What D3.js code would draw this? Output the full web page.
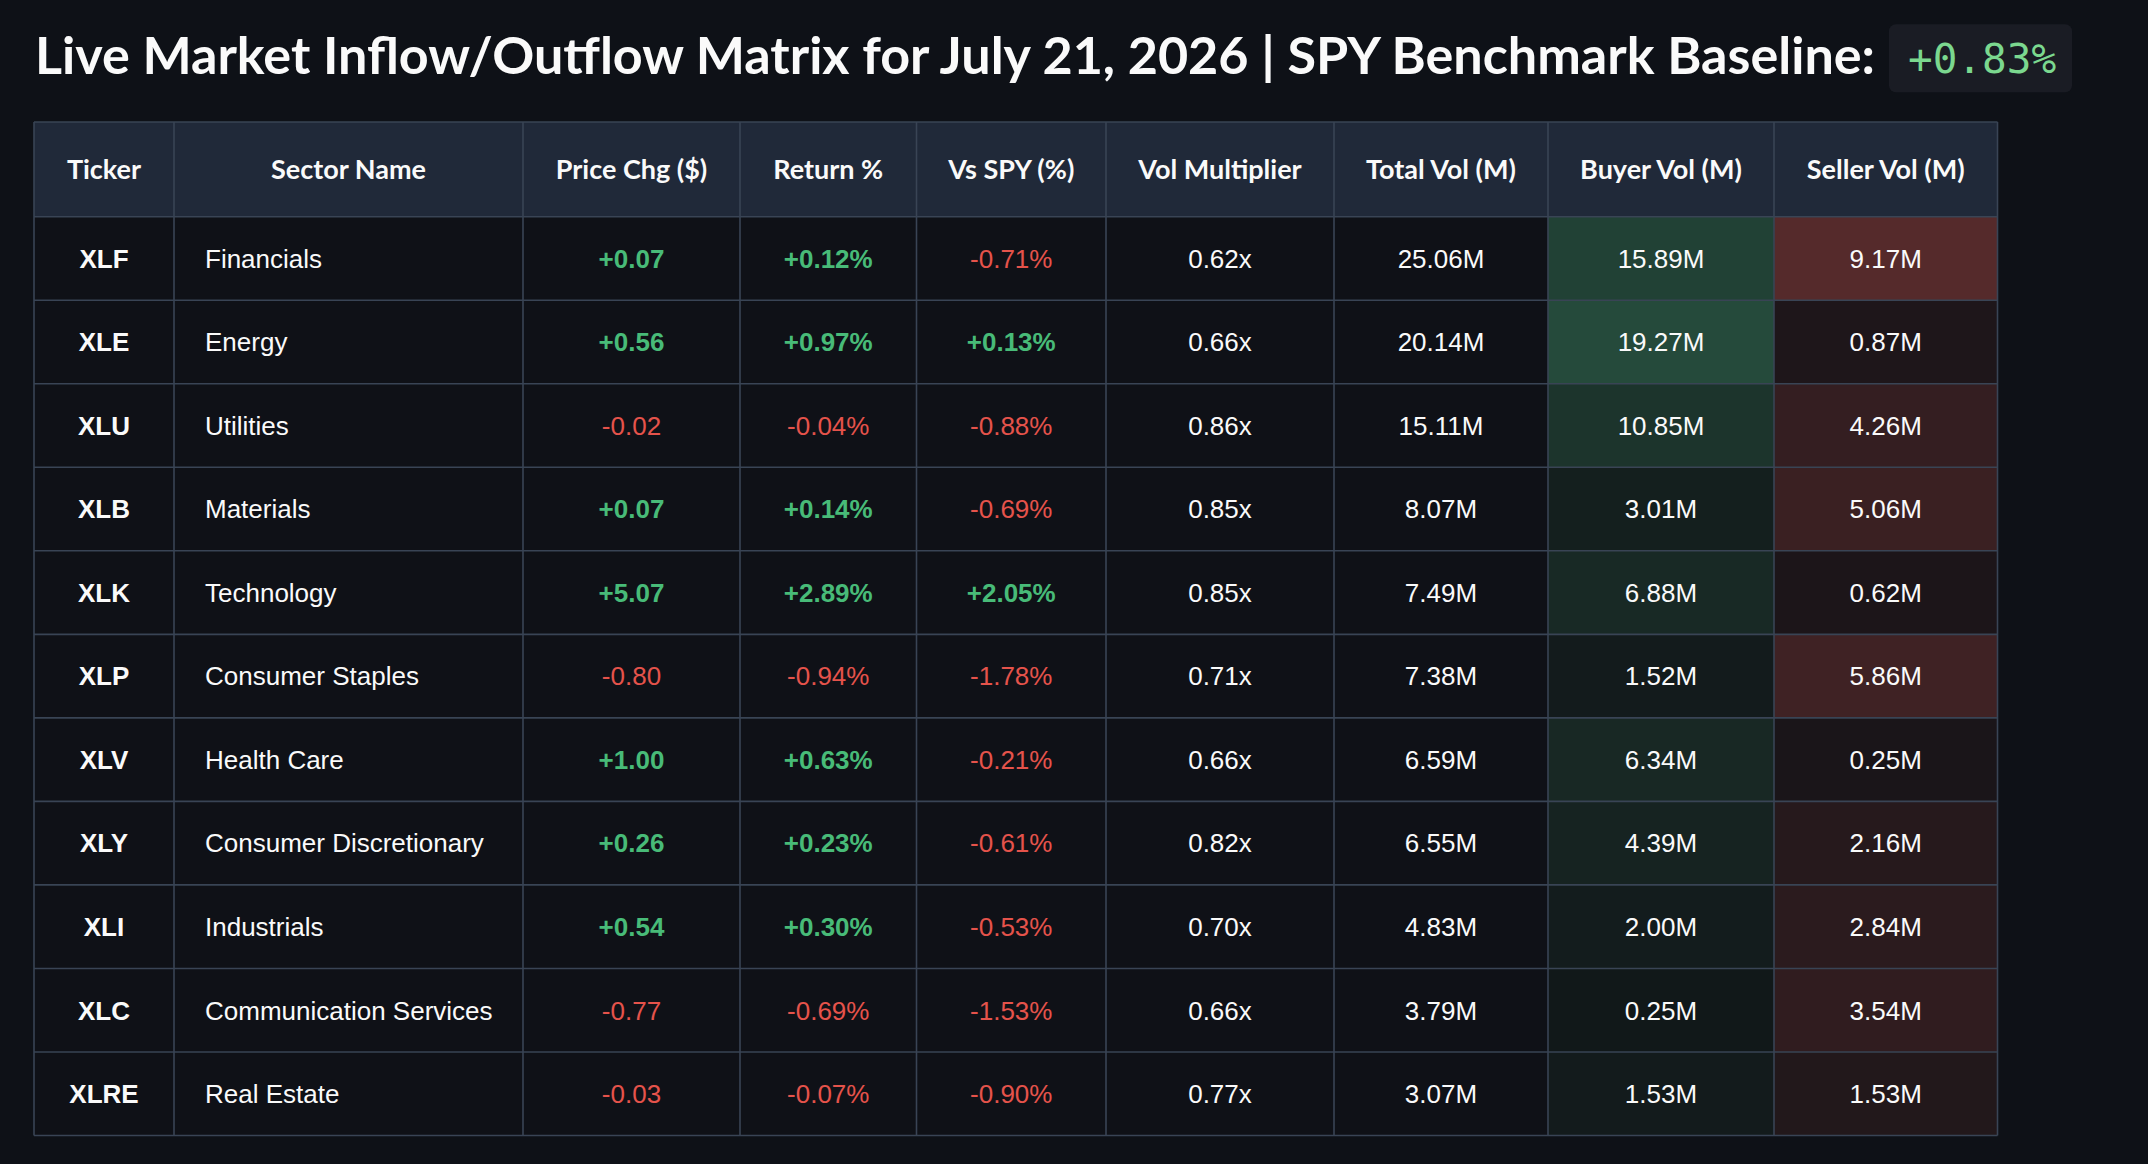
<!DOCTYPE html>
<html lang="en">
<head>
    <meta charset="UTF-8">
    <title>Live Market Inflow/Outflow Matrix</title>
    <script src="https://d3js.org/d3.v7.min.js"></script>
    <style>
        html, body {
            margin: 0;
            padding: 0;
            background-color: #0e1117;
            overflow: hidden;
        }
        .title {
            font-family: Lato, "Open Sans", sans-serif;
            font-weight: 700;
            font-size: 52px;
            fill: #fafafa;
        }
        .badge-text {
            font-family: "DejaVu Sans Mono", "Liberation Mono", monospace;
            font-size: 41px;
            fill: #7bd88f;
        }
        .head {
            font-family: Lato, "Open Sans", sans-serif;
            font-weight: 700;
            font-size: 27px;
            fill: #fafafa;
        }
        .cell {
            font-family: "Liberation Sans", Arial, sans-serif;
            font-size: 26px;
            fill: #fafafa;
        }
    </style>
</head>
<body>
    <div id="chart"></div>
    <script>
        const spyBaseline = 0.83;
        const tickers = ["XLF", "XLE", "XLU", "XLB", "XLK", "XLP", "XLV", "XLY", "XLI", "XLC", "XLRE"];
        const sectors = ["Financials", "Energy", "Utilities", "Materials", "Technology", "Consumer Staples",
                         "Health Care", "Consumer Discretionary", "Industrials", "Communication Services", "Real Estate"];
        const priceChg = [0.07, 0.56, -0.02, 0.07, 5.07, -0.80, 1.00, 0.26, 0.54, -0.77, -0.03];
        const returnPct = [0.12, 0.97, -0.04, 0.14, 2.89, -0.94, 0.63, 0.23, 0.30, -0.69, -0.07];
        const vsSpy = [-0.71, 0.13, -0.88, -0.69, 2.05, -1.78, -0.21, -0.61, -0.53, -1.53, -0.90];
        const volMult = [0.62, 0.66, 0.86, 0.85, 0.85, 0.71, 0.66, 0.82, 0.70, 0.66, 0.77];
        const totalVol = [25.06, 20.14, 15.11, 8.07, 7.49, 7.38, 6.59, 6.55, 4.83, 3.79, 3.07];
        const buyerVol = [15.89, 19.27, 10.85, 3.01, 6.88, 1.52, 6.34, 4.39, 2.00, 0.25, 1.53];
        const sellerVol = [9.17, 0.87, 4.26, 5.06, 0.62, 5.86, 0.25, 2.16, 2.84, 3.54, 1.53];

        const columns = ["Ticker", "Sector Name", "Price Chg ($)", "Return %", "Vs SPY (%)",
                         "Vol Multiplier", "Total Vol (M)", "Buyer Vol (M)", "Seller Vol (M)"];

        // Layout
        const W = 2148, H = 1164;
        const colWidths = [140, 349, 217, 176.5, 189.5, 228, 214, 226, 223.5];
        const tableLeft = 34, tableTop = 122, headHeight = 94.7, tableBottom = 1135.5;
        const cellFont = 26, headFont = 27;

        const fmt = d3.formatLocale({ decimal: ".", thousands: ",", grouping: [3], currency: ["$", ""], minus: "-" });
        const signed = fmt.format("+.2f");
        const fixed = fmt.format(".2f");

        const rows = tickers.map((t, i) => ({
            ticker: t,
            sector: sectors[i],
            priceChg: priceChg[i],
            returnPct: returnPct[i],
            vsSpy: vsSpy[i],
            volMult: volMult[i],
            totalVol: totalVol[i],
            buyerVol: buyerVol[i],
            sellerVol: sellerVol[i]
        }));

        // Column scale: key -> left edge, widths via a second ordinal
        const colStarts = d3.cumsum([0].concat(colWidths.slice(0, -1))).map(v => v + tableLeft);
        const x = d3.scaleOrdinal().domain(columns).range(colStarts);
        const w = d3.scaleOrdinal().domain(columns).range(colWidths);
        const tableRight = tableLeft + d3.sum(colWidths);

        const y = d3.scaleBand()
            .domain(tickers)
            .range([tableTop + headHeight, tableBottom]);

        // Heat colours for buyer / seller volume
        const buyerColor = d3.scaleLinear()
            .domain([0, d3.max(buyerVol)])
            .range(["rgb(17,23,25)", "rgb(37,74,59)"]);
        const sellerColor = d3.scaleLinear()
            .domain([0, d3.max(sellerVol)])
            .range(["rgb(24,20,24)", "rgb(85,42,43)"]);

        const green = "#48bb78", red = "#e5534b";

        const svg = d3.select("#chart")
            .append("svg")
            .attr("width", W)
            .attr("height", H);

        svg.append("rect")
            .attr("width", W)
            .attr("height", H)
            .attr("fill", "#0e1117");

        // Title + inline code badge
        svg.append("text")
            .attr("class", "title")
            .attr("x", 35)
            .attr("y", 73.5)
            .attr("textLength", 1840)
            .attr("lengthAdjust", "spacingAndGlyphs")
            .text("Live Market Inflow/Outflow Matrix for July 21, 2026 | SPY Benchmark Baseline:");

        svg.append("rect")
            .attr("x", 1889)
            .attr("y", 24.3)
            .attr("width", 183)
            .attr("height", 68)
            .attr("rx", 7)
            .attr("fill", "#1a1c24");

        svg.append("text")
            .attr("class", "badge-text")
            .attr("x", 1908)
            .attr("y", 73.3)
            .text(signed(spyBaseline) + "%");

        // Header row
        const head = svg.append("g");
        head.selectAll("rect")
            .data(columns)
            .join("rect")
            .attr("x", d => x(d))
            .attr("y", tableTop)
            .attr("width", d => w(d))
            .attr("height", headHeight)
            .attr("fill", "#202939");

        head.selectAll("text")
            .data(columns)
            .join("text")
            .attr("class", "head")
            .attr("x", d => x(d) + w(d) / 2)
            .attr("y", tableTop + headHeight / 2 + 0.723 * headFont / 2)
            .attr("text-anchor", "middle")
            .text(d => d);

        // Body cells
        const cellSpec = [
            { col: "Ticker", text: d => d.ticker, bold: () => true },
            { col: "Sector Name", text: d => d.sector, align: "start" },
            { col: "Price Chg ($)", text: d => signed(d.priceChg), value: d => d.priceChg },
            { col: "Return %", text: d => signed(d.returnPct) + "%", value: d => d.returnPct },
            { col: "Vs SPY (%)", text: d => signed(d.vsSpy) + "%", value: d => d.vsSpy },
            { col: "Vol Multiplier", text: d => fixed(d.volMult) + "x" },
            { col: "Total Vol (M)", text: d => fixed(d.totalVol) + "M" },
            { col: "Buyer Vol (M)", text: d => fixed(d.buyerVol) + "M", fill: d => buyerColor(d.buyerVol) },
            { col: "Seller Vol (M)", text: d => fixed(d.sellerVol) + "M", fill: d => sellerColor(d.sellerVol) }
        ];

        const cells = rows.flatMap(r => cellSpec.map(s => ({ row: r, spec: s })));

        const body = svg.append("g");
        body.selectAll("rect")
            .data(cells)
            .join("rect")
            .attr("x", d => x(d.spec.col))
            .attr("y", d => y(d.row.ticker))
            .attr("width", d => w(d.spec.col))
            .attr("height", y.bandwidth())
            .attr("fill", d => d.spec.fill ? d.spec.fill(d.row) : "#0f1117");

        body.selectAll("text")
            .data(cells)
            .join("text")
            .attr("class", "cell")
            .attr("x", d => d.spec.align === "start" ? x(d.spec.col) + 31 : x(d.spec.col) + w(d.spec.col) / 2)
            .attr("y", d => y(d.row.ticker) + y.bandwidth() / 2 + 0.716 * cellFont / 2)
            .attr("text-anchor", d => d.spec.align === "start" ? "start" : "middle")
            .style("font-weight", d => {
                if (d.spec.bold) return "bold";
                if (d.spec.value) return d.spec.value(d.row) >= 0 ? "bold" : "normal";
                return "normal";
            })
            .style("fill", d => d.spec.value ? (d.spec.value(d.row) >= 0 ? green : red) : "#fafafa")
            .text(d => d.spec.text(d.row));

        // Grid lines
        const grid = svg.append("g")
            .attr("stroke", "#394455")
            .attr("stroke-width", 1.6);

        const hLines = [tableTop].concat(tickers.map(t => y(t)), [tableBottom]);
        grid.selectAll("line.h")
            .data(hLines)
            .join("line")
            .attr("class", "h")
            .attr("x1", tableLeft)
            .attr("x2", tableRight)
            .attr("y1", d => d)
            .attr("y2", d => d);

        const vLines = columns.map(c => x(c)).concat([tableRight]);
        grid.selectAll("line.v")
            .data(vLines)
            .join("line")
            .attr("class", "v")
            .attr("x1", d => d)
            .attr("x2", d => d)
            .attr("y1", tableTop)
            .attr("y2", tableBottom);
    </script>
</body>
</html>
